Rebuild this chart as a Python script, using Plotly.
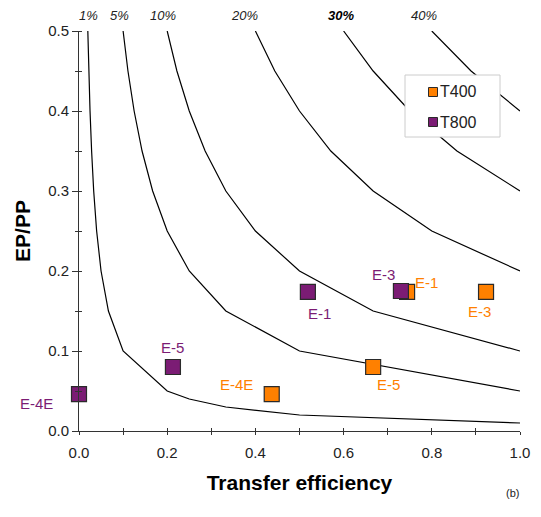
import plotly.graph_objects as go

# ---- data ----
iso_labels = ["1%", "5%", "10%", "20%", "30%", "40%"]
iso_y = [0.5, 0.45, 0.4, 0.35, 0.3, 0.25, 0.2, 0.15, 0.1, 0.05, 0.04, 0.03, 0.02, 0.01]
iso_x_1 = [0.02, 0.0222, 0.025, 0.0286, 0.0333, 0.04, 0.05, 0.0667, 0.1, 0.2, 0.25, 0.333, 0.5, 1.0]
iso_x_5 = [0.1, 0.111, 0.125, 0.143, 0.167, 0.2, 0.25, 0.333, 0.5, 1.0]
iso_x_10 = [0.2, 0.222, 0.25, 0.286, 0.333, 0.4, 0.5, 0.667, 1.0]
iso_x_20 = [0.4, 0.444, 0.5, 0.571, 0.667, 0.8, 1.0]
iso_x_30 = [0.6, 0.667, 0.75, 0.857, 1.0]
iso_x_40 = [0.8, 0.889, 1.0]
iso_label_x = [0.0204, 0.0907, 0.1905, 0.3764, 0.5941, 0.7823]

t400_names = ["E-4E", "E-5", "E-1", "E-3"]
t400_x = [0.437, 0.667, 0.744, 0.923]
t400_y = [0.046, 0.080, 0.174, 0.174]

t800_names = ["E-4E", "E-5", "E-1", "E-3"]
t800_x = [0.0, 0.213, 0.519, 0.730]
t800_y = [0.046, 0.080, 0.174, 0.175]

series_names = ["T400", "T800"]
x_ticks = [0.0, 0.2, 0.4, 0.6, 0.8, 1.0]
y_ticks = [0.0, 0.1, 0.2, 0.3, 0.4, 0.5]

# ---- styling ----
ORANGE = "#FF8000"
PURPLE = "#7B1C74"
EDGE = "#2a2a2a"
AXC = "#333333"
FONT = "Arial, Liberation Sans, sans-serif"
t400_off = [(-35, 10), (15, -17), (19, 9), (-7, -20)]
t800_off = [(-43, -9), (0, 20), (12, -22), (-17, 17)]

fig = go.Figure()

iso_xs = [iso_x_1, iso_x_5, iso_x_10, iso_x_20, iso_x_30, iso_x_40]
for lab, xs in zip(iso_labels, iso_xs):
    fig.add_trace(go.Scatter(x=xs, y=iso_y[:len(xs)], mode="lines",
                             line=dict(color="black", width=1.2),
                             showlegend=False, hoverinfo="skip", cliponaxis=False))

mk = dict(symbol="square", size=15, line=dict(color=EDGE, width=1.2))
fig.add_trace(go.Scatter(x=t400_x, y=t400_y, mode="markers", name=series_names[0],
                         marker=dict(color=ORANGE, **mk), showlegend=False, cliponaxis=False))
fig.add_trace(go.Scatter(x=t800_x, y=t800_y, mode="markers", name=series_names[1],
                         marker=dict(color=PURPLE, **mk), showlegend=False, cliponaxis=False))
# dummy trace for overlay tick axes
fig.add_trace(go.Scatter(x=[None], y=[None], xaxis="x2", yaxis="y2", showlegend=False,
                         hoverinfo="skip"))

ann = []
for lab, xv in zip(iso_labels, iso_label_x):
    bold = lab == "30%"
    ann.append(dict(x=xv, y=1.0, xref="x", yref="paper", yshift=16, text="<i>" + lab + "</i>",
                    showarrow=False, yanchor="middle",
                    font=dict(size=13, family=FONT, color="black" if bold else "#222",
                              weight="bold" if bold else "normal")))
for names, xs, ys, offs, col in [(t400_names, t400_x, t400_y, t400_off, ORANGE),
                                 (t800_names, t800_x, t800_y, t800_off, PURPLE)]:
    for n, xv, yv, (dx, dy) in zip(names, xs, ys, offs):
        ann.append(dict(x=xv, y=yv, xref="x", yref="y", text=n, showarrow=False,
                        xshift=dx, yshift=dy, font=dict(size=15, family=FONT, color=col)))
ann.append(dict(x=1.0, y=0, xref="paper", yref="paper", text="(b)", showarrow=False,
                xshift=-8, yshift=-62, xanchor="center", yanchor="middle",
                font=dict(size=11, family=FONT, color="#222")))

# manual legend (paper coordinates of plot area)
def px(xp):
    return (xp - 79) / 441.0
def py(yp):
    return (431 - yp) / 400.0

shapes = [dict(type="rect", xref="paper", yref="paper", x0=px(405), x1=px(500),
               y0=py(137), y1=py(75), line=dict(color="#cccccc", width=1), fillcolor="white",
               layer="above")]
for col, cy, name in [(ORANGE, 92, series_names[0]), (PURPLE, 122, series_names[1])]:
    shapes.append(dict(type="rect", xref="paper", yref="paper", x0=px(428.5), x1=px(437.5),
                       y0=py(cy + 4.5), y1=py(cy - 4.5), line=dict(color=EDGE, width=1),
                       fillcolor=col, layer="above"))
    ann.append(dict(x=px(437.5), y=py(cy), xref="paper", yref="paper", text=name,
                    showarrow=False, xanchor="left", yanchor="middle",
                    font=dict(size=16, family=FONT, color="#222")))

fig.update_layout(annotations=ann, shapes=shapes)

tickfont = dict(size=15, family=FONT, color="#222")
fig.update_layout(
    xaxis=dict(range=[0, 1], tickvals=x_ticks, tickformat=".1f", showgrid=False, zeroline=False,
               showline=True, linecolor=AXC, linewidth=1, ticks="outside", ticklen=3,
               tickcolor=AXC, tickfont=tickfont, ticklabelstandoff=5,
               minor=dict(dtick=0.1, ticks="outside", ticklen=3, tickcolor=AXC),
               title=dict(text="<b>Transfer efficiency</b>",
                          font=dict(size=21, family=FONT, color="black"), standoff=15)),
    yaxis=dict(range=[0, 0.5], tickvals=y_ticks, tickformat=".1f", showgrid=False, zeroline=False,
               showline=True, linecolor=AXC, linewidth=1, ticks="outside", ticklen=6,
               tickcolor=AXC, tickfont=tickfont,
               minor=dict(dtick=0.05, ticks="outside", ticklen=3, tickcolor=AXC),
               title=dict(text="<b>EP/PP</b>",
                          font=dict(size=21, family=FONT, color="black"), standoff=11)),
    xaxis2=dict(overlaying="x", matches="x", anchor="y", range=[0, 1], tickvals=x_ticks,
                showticklabels=False, showgrid=False, zeroline=False, showline=False,
                ticks="inside", ticklen=3, tickcolor=AXC,
                minor=dict(dtick=0.1, ticks="inside", ticklen=3, tickcolor=AXC)),
    yaxis2=dict(overlaying="y", matches="y", anchor="x", range=[0, 0.5], tickvals=y_ticks,
                showticklabels=False, showgrid=False, zeroline=False, showline=False,
                ticks="", minor=dict(dtick=0.05, ticks="inside", ticklen=3, tickcolor=AXC)),
    width=541, height=517,
    margin=dict(l=79, r=21, t=31, b=86),
    plot_bgcolor="white", paper_bgcolor="white",
    font=dict(family=FONT),
    showlegend=False,
)

fig.write_html("out.html", config={"displayModeBar": False},
               post_script="document.body.style.margin='0px';document.body.style.overflow='hidden';")
